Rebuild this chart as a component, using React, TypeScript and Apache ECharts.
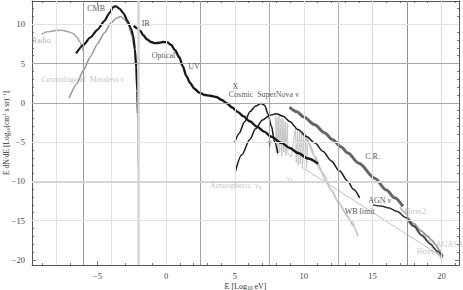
import React, { useEffect, useRef } from "react";
import * as echarts from "echarts";

// ---------- axis ranges and ticks ----------
const X_MIN = -9.75;
const X_MAX = 21.28;
const Y_MIN = -20.66;
const Y_MAX = 12.97;
const xMajorTicks = [-5, 0, 5, 10, 15, 20];
const xMinorTicks = [-9, -8, -7, -6, -4, -3, -2, -1, 1, 2, 3, 4, 6, 7, 8, 9, 11, 12, 13, 14, 16, 17, 18, 19, 21];
const yMajorTicks = [-20, -15, -10, -5, 0, 5, 10];
const yMinorTicks = [-19, -18, -17, -16, -14, -13, -12, -11, -9, -8, -7, -6, -4, -3, -2, -1, 1, 2, 3, 4, 6, 7, 8, 9, 11, 12];

// grid lines (values)
const xGridValues = [-8, -6, -4, -2, 0, 2.5, 5, 7.5, 10, 12.5, 15, 17.5, 20];
const yGridValues = [10, 5, 0, -5, -10, -15];

// ---------- series data ----------
const radio = [[-9.07, 8.75], [-8.6, 9.05], [-8.1, 9.2], [-7.6, 9.25], [-7.2, 9.1], [-6.8, 8.85], [-6.5, 8.4], [-6.25, 7.7], [-6.1, 7.1], [-6.0, 6.6]];
const cmb = [[-6.55, 6.3], [-6.0, 7.4], [-5.5, 8.35], [-5.0, 9.3], [-4.5, 10.4], [-4.1, 11.5], [-3.85, 12.2], [-3.65, 12.3], [-3.4, 12.0], [-3.1, 11.4], [-2.8, 10.4], [-2.55, 9.4], [-2.4, 8.6], [-2.27, 6.8], [-2.17, 4.5], [-2.1, 1.5], [-2.05, -1.3]];
const cosmoNu = [[-7.06, 0.6], [-6.5, 2.4], [-6.0, 4.2], [-5.5, 5.9], [-5.0, 7.5], [-4.5, 8.9], [-4.0, 10.2], [-3.6, 10.8], [-3.3, 11.0], [-3.0, 10.6], [-2.7, 9.8], [-2.45, 8.3], [-2.3, 6.8], [-2.18, 4.0], [-2.1, 1.0], [-2.06, -3.0], [-2.04, -8.0]];
const irToX = [[-2.36, 9.8], [-2.1, 9.5], [-1.9, 9.2], [-1.65, 8.6], [-1.4, 8.1], [-1.1, 7.75], [-0.8, 7.6], [-0.5, 7.65], [-0.2, 7.75], [0.1, 7.7], [0.35, 7.4], [0.65, 6.7], [0.95, 5.8], [1.2, 4.7], [1.47, 3.4], [1.75, 2.5], [2.05, 1.8], [2.4, 1.3], [2.8, 1.0], [3.2, 0.9], [3.65, 0.75], [4.0, 0.4], [4.4, -0.05], [4.8, -0.6], [5.2, -1.15], [5.6, -1.7], [6.07, -2.35], [6.6, -3.05], [7.16, -3.7], [7.6, -4.3], [8.37, -5.1], [8.98, -5.75], [9.58, -6.4], [10.3, -7.1], [11.03, -7.77]];
const narrowBump = [[4.98, -5.1], [5.3, -3.9], [5.7, -2.4], [6.1, -1.1], [6.5, -0.4], [6.9, -0.1], [7.15, -0.3], [7.4, -1.4], [7.65, -3.0], [7.88, -5.0], [8.12, -6.4]];
const broadBump = [[5.03, -8.75], [5.5, -6.6], [6.07, -4.7], [6.5, -3.3], [7.0, -2.2], [7.5, -1.6], [8.0, -1.4], [8.5, -1.7], [9.0, -2.4], [9.58, -3.4], [10.2, -4.3], [10.8, -5.1], [11.4, -6.2], [12.0, -7.4], [12.6, -8.7], [13.2, -10.0], [13.6, -11.0], [14.06, -12.1]];
const cosmicRays = [[8.97, -0.55], [9.5, -1.15], [10.0, -1.8], [10.8, -2.8], [11.5, -3.8], [12.1, -4.7], [12.7, -5.6], [13.2, -6.4], [14.0, -7.7], [15.15, -9.6], [16.0, -11.1], [16.6, -12.1], [17.2, -13.2]];
const atmSpikes = [[7.95, -1.6], [8.0, -6.4], [8.05, -1.8], [8.1, -6.6], [8.2, -1.7], [8.25, -6.2], [8.35, -2.0], [8.4, -6.8], [8.5, -2.1], [8.55, -6.3], [8.65, -2.4], [8.7, -6.7], [8.8, -2.6], [8.85, -6.4], [9.1, -6.9], [9.4, -3.1], [9.45, -7.6], [9.55, -3.3], [9.6, -8.0], [9.7, -3.4], [9.75, -7.8], [9.85, -3.6], [9.9, -8.3], [10.0, -3.8], [10.05, -8.0], [10.15, -4.0], [10.2, -8.4], [10.3, -4.3]];
const nuTau1 = [[10.07, -3.86], [10.4, -5.2], [10.8, -6.8], [11.4, -9.0], [12.0, -11.1], [12.6, -12.9], [13.2, -14.5], [13.6, -15.7], [13.94, -17.0]];
const nuTau2 = [[10.3, -4.5], [10.7, -6.6], [11.15, -8.5], [11.6, -10.0], [12.0, -11.2], [12.5, -12.6], [13.0, -14.0], [13.4, -15.0], [13.7, -15.6]];
const wbLimit = [[9.95, -8.3], [20.2, -19.8]];
const agnNu = [[15.0, -13.0], [15.6, -13.15], [16.2, -13.4], [16.8, -13.85], [17.4, -14.6], [18.0, -15.7], [18.6, -16.9], [19.2, -18.0], [19.7, -18.9], [20.1, -19.6]];
const hires2 = [[17.0, -13.3], [17.3, -13.9], [17.6, -14.5]];
const agasa = [[17.6, -14.6], [18.0, -15.4], [18.5, -16.3], [19.0, -17.0], [19.3, -17.5], [19.6, -18.1], [19.9, -18.9], [20.1, -19.5]];
const hires = [[17.5, -14.9], [18.0, -15.8], [18.5, -16.8], [19.0, -17.6], [19.5, -18.6], [19.8, -19.3], [20.0, -19.8]];

// ---------- text labels ----------
const labelTexts = ["Radio", "Cosmological  Massless ν", "CMB", "IR", "Optical", "UV", "X", "Cosmic  SuperNova ν", "γ", "ν{sub|τ}", "Atmospheric  ν{sub|μ}", "C.R.", "AGN ν", "WB limit", "Hires2", "AGASA", "Hires"];
const labelX = [-9.08, -6.07, -5.09, -1.49, -0.2, 2.02, 5.03, 7.09, 7.52, 8.98, 5.05, 15.0, 15.52, 14.06, 18.1, 20.6, 18.82];
const labelY = [8.0, 2.93, 12.0, 10.05, 6.07, 4.6, 2.1, 1.0, -5.0, -9.58, -10.47, -6.9, -12.5, -13.9, -13.9, -18.0, -19.0];

const SERIF = "'Liberation Serif', 'DejaVu Serif', serif";
const LIGHT = "#b4b4b4";
const DARK = "#1e1e1e";
const labelColors = ["#9a9a9a", LIGHT, DARK, DARK, DARK, DARK, DARK, DARK, DARK, LIGHT, LIGHT, DARK, DARK, DARK, LIGHT, LIGHT, LIGHT];

const xGridStyles = [
  ["#e2e2e2", 1], ["#9a9a9a", 1], ["#e2e2e2", 1], ["#d4d4d4", 2.5], ["#e2e2e2", 1], ["#a0a0a0", 1], ["#e2e2e2", 1],
  ["#a8a8a8", 1], ["#e2e2e2", 1], ["#b0b0b0", 1], ["#dadada", 1], ["#909090", 1], ["#dadada", 1],
];
const yGridStyles = [["#e2e2e2", 1], ["#a8a8a8", 1], ["#a8a8a8", 1], ["#e2e2e2", 1], ["#d4d4d4", 2], ["#e2e2e2", 1]];

const minus = (v: number) => (v < 0 ? "\u2212" + Math.abs(v) : String(v));

function curve(data: number[][], color: string, width: number, z = 3, smooth: number | boolean = 0.3) {
  return {
    type: "line",
    data,
    symbol: "none",
    showSymbol: false,
    smooth,
    smoothMonotone: "x",
    silent: true,
    z,
    lineStyle: { color, width, type: "solid" },
  };
}

function axisX(position: string, major: boolean, labels: boolean) {
  return {
    type: "value",
    min: X_MIN,
    max: X_MAX,
    position,
    axisLine: { show: major, onZero: false, lineStyle: { color: "#555", width: 1 } },
    axisTick: { show: true, inside: true, length: major ? 4 : 2, customValues: major ? xMajorTicks : xMinorTicks, lineStyle: { color: "#555", width: 0.8 } },
    axisLabel: labels
      ? { show: true, customValues: xMajorTicks, formatter: (v: number) => minus(v), margin: 6, fontSize: 8.5, color: "#444", fontFamily: SERIF }
      : { show: false },
    splitLine: { show: false },
    ...(labels
      ? {
          name: "E [Log{sub|10} eV]",
          nameLocation: "middle",
          nameGap: 16,
          nameMoveOverlap: false,
          nameTextStyle: { fontFamily: SERIF, fontSize: 8, color: "#333", rich: { sub: { fontSize: 5.5, fontFamily: SERIF, padding: [4, 0, 0, 0], color: "#333" } } },
        }
      : {}),
  };
}

function axisY(position: string, major: boolean, labels: boolean) {
  return {
    type: "value",
    min: Y_MIN,
    max: Y_MAX,
    position,
    axisLine: { show: major, onZero: false, lineStyle: { color: "#555", width: 1 } },
    axisTick: { show: true, inside: true, length: major ? 4 : 2, customValues: major ? yMajorTicks : yMinorTicks, lineStyle: { color: "#555", width: 0.8 } },
    axisLabel: labels
      ? { show: true, customValues: yMajorTicks, formatter: (v: number) => minus(v), margin: 7, fontSize: 8.5, color: "#444", fontFamily: SERIF }
      : { show: false },
    splitLine: { show: false },
    ...(labels
      ? {
          name: "E dN/dE [Log{sub|10}(cm{sup|2} s sr){sup|−1}]",
          nameLocation: "middle",
          nameRotate: 90,
          nameGap: 21,
          nameMoveOverlap: false,
          nameTextStyle: {
            fontFamily: SERIF,
            fontSize: 7.5,
            color: "#333",
            rich: {
              sub: { fontSize: 5, fontFamily: SERIF, padding: [4, 0, 0, 0], color: "#333" },
              sup: { fontSize: 5, fontFamily: SERIF, padding: [0, 0, 4, 0], color: "#333" },
            },
          },
        }
      : {}),
  };
}

export default function App() {
  const ref = useRef<HTMLDivElement>(null);
  useEffect(() => {
    if (!ref.current) return;
    const chart = echarts.init(ref.current, null, { renderer: "svg" });

    const gridSeries = {
      type: "line",
      data: [],
      silent: true,
      z: 1,
      markLine: {
        silent: true,
        symbol: ["none", "none"],
        label: { show: false },
        animation: false,
        data: [
          ...xGridValues.map((v, i) => ({ xAxis: v, lineStyle: { color: xGridStyles[i][0], width: xGridStyles[i][1], type: "solid" } })),
          ...yGridValues.map((v, i) => ({ yAxis: v, lineStyle: { color: yGridStyles[i][0], width: yGridStyles[i][1], type: "solid" } })),
        ],
      },
    };

    const labelSeries = {
      type: "scatter",
      symbolSize: 0,
      silent: true,
      z: 10,
      itemStyle: { color: "transparent" },
      data: labelTexts.map((t, i) => ({
        value: [labelX[i], labelY[i]],
        label: { formatter: t, color: labelColors[i] },
      })),
      label: {
        show: true,
        position: [0, 0],
        align: "center",
        verticalAlign: "middle",
        fontFamily: SERIF,
        fontSize: 8,
        color: DARK,
        textBorderWidth: 0,
        textBorderColor: "transparent",
        rich: {
          sub: { fontSize: 5.5, fontFamily: SERIF, padding: [4, 0, 0, 0], color: LIGHT },
        },
      },
    };

    chart.setOption({
      animation: false,
      backgroundColor: "#fff",
      grid: { left: 32, right: 4, top: 1, bottom: 25, containLabel: false, outerBoundsMode: "none" },
      xAxis: [axisX("bottom", true, true), axisX("bottom", false, false), axisX("top", true, false), axisX("top", false, false)],
      yAxis: [axisY("left", true, true), axisY("left", false, false), axisY("right", true, false), axisY("right", false, false)],
      series: [
        gridSeries,
        curve(radio, "#a8a8a8", 1.6),
        curve(cosmoNu, "#9a9a9a", 1.6, 3, 0.2),
        curve(cmb, "#1a1a1a", 2.2, 4, 0.2),
        curve(irToX, "#1a1a1a", 2.4, 4),
        curve(atmSpikes, "#c4c4c4", 1, 2, false),
        curve(nuTau1, "#bdbdbd", 1.4, 2),
        curve(nuTau2, "#c8c8c8", 1.4, 2),
        curve(wbLimit, "#b0b0b0", 0.8, 2, false),
        curve(narrowBump, "#1a1a1a", 1.5, 4),
        curve(broadBump, "#1a1a1a", 1.5, 4),
        curve(cosmicRays, "#666", 3, 4),
        curve(agnNu, "#333", 1.5, 4),
        curve(hires2, "#bbbbbb", 2, 3),
        curve(agasa, "#9a9a9a", 2, 3),
        curve(hires, "#b4b4b4", 2, 3),
        labelSeries,
      ],
    });
    return () => chart.dispose();
  }, []);
  return <div ref={ref} style={{ position: "absolute", left: 0, top: 0, width: 463, height: 290 }} />;
}
